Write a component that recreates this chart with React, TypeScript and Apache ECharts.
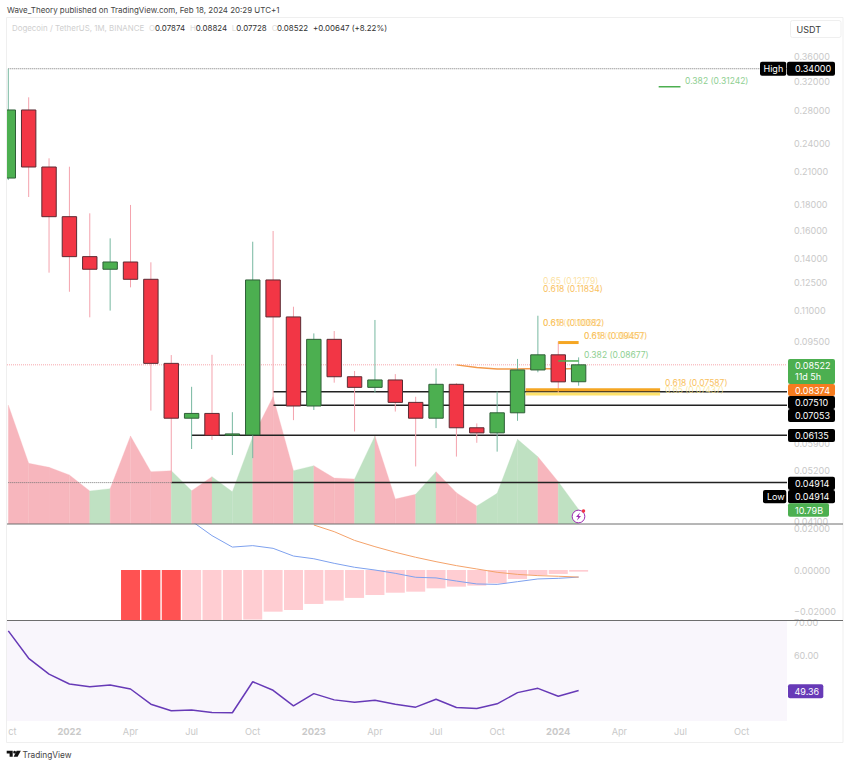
import React, { useEffect, useRef } from "react";
import * as echarts from "echarts";

const FONT = "Inter, 'Noto Sans', sans-serif";
const TICK = "#c9c9c9";

// [index, open, close, low, high], months from Oct 2021
const candles: number[][] = [
  [0, 0.204, 0.2804, 0.2021, 0.34],
  [1, 0.2804, 0.2148, 0.1867, 0.2975],
  [2, 0.2148, 0.1703, 0.1311, 0.2237],
  [3, 0.1703, 0.1413, 0.1199, 0.2151],
  [4, 0.1413, 0.1332, 0.1064, 0.173],
  [5, 0.1332, 0.1378, 0.1098, 0.1539],
  [6, 0.1378, 0.1271, 0.1224, 0.1799],
  [7, 0.1271, 0.0858, 0.0688, 0.1376],
  [8, 0.0858, 0.0664, 0.04914, 0.0892],
  [9, 0.0664, 0.0679, 0.0575, 0.0769],
  [10, 0.0679, 0.0613, 0.06, 0.0893],
  [11, 0.0613, 0.0617, 0.0559, 0.0683],
  [12, 0.0614, 0.1267, 0.0551, 0.1515],
  [13, 0.1267, 0.1066, 0.0704, 0.1593],
  [14, 0.1066, 0.0703, 0.0658, 0.1118],
  [15, 0.0703, 0.096, 0.069, 0.0987],
  [16, 0.096, 0.0806, 0.0784, 0.0998],
  [17, 0.0806, 0.0767, 0.0624, 0.0828],
  [18, 0.0767, 0.0794, 0.0748, 0.1051],
  [19, 0.0794, 0.0715, 0.0685, 0.0816],
  [20, 0.0715, 0.0664, 0.053, 0.0734],
  [21, 0.0664, 0.0778, 0.0634, 0.0838],
  [22, 0.0778, 0.0635, 0.0555, 0.0782],
  [23, 0.0635, 0.062, 0.0592, 0.0648],
  [24, 0.062, 0.0681, 0.0568, 0.0752],
  [25, 0.0681, 0.0832, 0.0656, 0.0876],
  [26, 0.0832, 0.0893, 0.0823, 0.1072],
  [27, 0.0893, 0.0787, 0.0743, 0.095],
  [28, 0.07874, 0.08522, 0.07728, 0.08824],
];

const volumes = [88.5, 45.2, 42.2, 36.5, 24.6, 26.3, 65.5, 38.9, 39.7, 24.8, 35.2, 24, 65, 94.7, 39.7, 43.4, 34.2, 33.5, 65.5, 18.6, 22.1, 38.9, 23.3, 13.4, 22.8, 63, 50, 31.5, 10.79];

const maCurve = [[22, 0.0852], [23, 0.0842], [24, 0.0836], [25, 0.0836], [26, 0.0838], [27, 0.0836], [28, 0.08374]];

const histStart = 6;
const macdHist = [-0.032, -0.031, -0.03, -0.029, -0.028, -0.026, -0.0238, -0.02, -0.0192, -0.0163, -0.0147, -0.0134, -0.012, -0.0109, -0.0104, -0.0088, -0.008, -0.0075, -0.0064, -0.0043, -0.0024, -0.0019, -0.0008];
const macdStart = 9;
const macdLine = [0.0235, 0.0165, 0.011, 0.0117, 0.0104, 0.0067, 0.0054, 0.0032, 0.0013, 0, -0.0016, -0.0035, -0.0038, -0.0053, -0.0067, -0.0069, -0.0056, -0.0043, -0.004, -0.0034];
const signalStart = 15;
const signalLine = [0.0216, 0.0184, 0.0142, 0.0112, 0.0085, 0.0061, 0.004, 0.0021, 0.0005, -0.0011, -0.0021, -0.0027, -0.003, -0.0034];

const rsi = [67.4, 59.1, 54.3, 51.3, 50.5, 51, 49.8, 45.2, 43.2, 43.4, 42.7, 42.6, 52, 49.4, 44.7, 48.4, 46.5, 45.8, 46.4, 45.2, 44.3, 46.7, 44.2, 43.9, 45.3, 48.7, 50, 47.6, 49.36];

const priceTicks = [0.36, 0.32, 0.28, 0.24, 0.21, 0.18, 0.16, 0.14, 0.125, 0.11, 0.095, 0.059, 0.052, 0.041];
const macdTicks = [0.02, 0, -0.02];
const rsiTicks = [70, 60];
const timeTickIdx = [0, 3, 6, 9, 12, 15, 18, 21, 24, 27, 30, 33, 36];
const timeTickLabels = ["ct", "2022", "Apr", "Jul", "Oct", "2023", "Apr", "Jul", "Oct", "2024", "Apr", "Jul", "Oct"];

const X_MIN = -0.064;
const X_MAX = 38.23;

// support levels: [value, first index]
const supports = [[0.0751, 13], [0.07053, 13], [0.06135, 9], [0.04914, 8]];
const HIGH = 0.34;
const LOW = 0.04914;
const LAST = 0.08522;

// fib segments: [value, from, to]
const fibGreen = [[0.31242, 31.93, 33], [0.08677, 27, 28]];
const fibOrange = [[0.09457, 27, 28], [0.07587, 25.4, 32]];
const fibYellow = [[0.07437, 25.4, 32]];

const fibTexts: [string, number, number, string, number][] = [
  ["0.382 (0.31242)", 685, 80.7, "#8fcf92", 1],
  ["0.65 (0.12179)", 543, 281, "#fbd98a", 0.8],
  ["0.618 (0.11834)", 543, 288.7, "#f9c15e", 1],
  ["0.65 (0.10062)", 543, 323, "#fbd98a", 0.8],
  ["0.618 (0.10082)", 543, 323, "#f9c15e", 1],
  ["0.65 (0.09487)", 584, 336, "#fbd98a", 0.8],
  ["0.618 (0.09457)", 584, 336, "#f9c15e", 1],
  ["0.382 (0.08677)", 584, 355, "#8fcf92", 1],
  ["0.65 (0.07437)", 665, 389.5, "#fbe58f", 0.8],
  ["0.618 (0.07587)", 665, 383.3, "#f9c15e", 1],
];

const text = (t: string, x: number, y: number, fill: string, size = 9, extra: any = {}) => ({
  type: "text",
  x,
  y,
  z: extra.z ?? 120,
  style: { text: t, fill, fontSize: size, fontFamily: FONT, verticalAlign: "middle", align: "left", opacity: extra.opacity ?? 1, fontWeight: extra.weight ?? 400 },
});

const badge = (t: string, x0: number, x1: number, y0: number, y1: number, bg: string, tx?: number) => [
  { type: "rect", z: 110, shape: { x: x0, y: y0, width: x1 - x0, height: y1 - y0, r: 2 }, style: { fill: bg } },
  text(t, tx ?? x0 + 3, (y0 + y1) / 2, "#ffffff"),
];

const segmentSeries = (data: number[][], color: string, width: number, z: number) =>
  data.map((d) => ({
    type: "line",
    xAxisIndex: 0,
    yAxisIndex: 0,
    showSymbol: false,
    silent: true,
    z,
    lineStyle: { color, width },
    data: [[d[1], d[0]], [d[2], d[0]]],
  }));

export default function App() {
  const ref = useRef<HTMLDivElement>(null);
  useEffect(() => {
    document.body.style.margin = "0";
    const chart = echarts.init(ref.current!, undefined, { renderer: "svg" });

    const volData = volumes.map((v, i) => [i, v, i > 0 ? volumes[i - 1] : v, candles[i][2] >= candles[i][1] ? 1 : 0]);

    const series: any[] = [
      {
        type: "custom",
        name: "Volume",
        xAxisIndex: 0,
        yAxisIndex: 1,
        z: 1,
        silent: true,
        clip: true,
        data: volData,
        encode: { x: 0, y: 1 },
        renderItem: (_p: any, api: any) => {
          const i = api.value(0);
          if (i === 0) return null;
          const a = api.coord([i - 1, api.value(2)]);
          const b = api.coord([i, api.value(1)]);
          const c = api.coord([i, 0]);
          const d = api.coord([i - 1, 0]);
          return {
            type: "polygon",
            shape: { points: [a, b, c, d] },
            style: { fill: api.value(3) ? "#bfe1c2" : "#f7b6bd", stroke: api.value(3) ? "#bfe1c2" : "#f7b6bd", lineWidth: 0.3 },
          };
        },
      },
      {
        type: "line",
        name: "Last",
        showSymbol: false,
        silent: true,
        z: 2,
        lineStyle: { color: "#f7a7ad", width: 1, type: "dotted" },
        data: [[X_MIN, LAST], [X_MAX, LAST]],
      },
      {
        type: "line",
        name: "High",
        showSymbol: false,
        silent: true,
        z: 2,
        lineStyle: { color: "#777777", width: 1, type: "dotted" },
        data: [[0, HIGH], [X_MAX, HIGH]],
      },
      {
        type: "line",
        name: "Low",
        showSymbol: false,
        silent: true,
        z: 2,
        lineStyle: { color: "#777777", width: 1, type: "dotted" },
        data: [[0, LOW], [8, LOW]],
      },
      ...segmentSeries(supports.map((s) => [s[0], s[1], X_MAX]), "#222222", 1.5, 2),
      {
        type: "line",
        name: "MA",
        showSymbol: false,
        silent: true,
        z: 2,
        lineStyle: { color: "#f39a4c", width: 1.5 },
        data: maCurve,
      },
      {
        type: "custom",
        name: "DOGEUSDT",
        xAxisIndex: 0,
        yAxisIndex: 0,
        z: 3,
        silent: true,
        clip: true,
        data: candles,
        encode: { x: 0, y: [1, 2, 3, 4] },
        renderItem: (_p: any, api: any) => {
          const i = api.value(0);
          const o = api.value(1);
          const c = api.value(2);
          const up = c >= o;
          const x = api.coord([i, o])[0];
          const yo = api.coord([i, o])[1];
          const yc = api.coord([i, c])[1];
          const yl = api.coord([i, api.value(3)])[1];
          const yh = api.coord([i, api.value(4)])[1];
          const top = Math.min(yo, yc);
          const h = Math.max(Math.abs(yo - yc), 0.5);
          return {
            type: "group",
            children: [
              { type: "line", shape: { x1: x, y1: yh, x2: x, y2: yl }, style: { stroke: up ? "#77b8a0" : "#f4a3ad", lineWidth: 1 } },
              { type: "rect", shape: { x: x - 7.2, y: top, width: 14.4, height: h }, style: { fill: up ? "#4caf50" : "#f23645", stroke: up ? "#2f5f38" : "#5c2b33", lineWidth: 1 } },
            ],
          };
        },
      },
      ...segmentSeries(fibGreen, "#4caf50", 1.5, 5),
      ...segmentSeries(fibYellow, "#ffe36b", 3, 5),
      ...segmentSeries(fibOrange, "#f5a623", 3, 5),
      {
        type: "custom",
        name: "PriceTicks",
        xAxisIndex: 0,
        yAxisIndex: 0,
        z: 6,
        silent: true,
        clip: false,
        data: priceTicks.map((v) => [X_MAX, v]),
        encode: { x: 0, y: 1 },
        renderItem: (_p: any, api: any) => {
          const p = api.coord([X_MAX, api.value(1)]);
          return {
            type: "text",
            x: p[0] + 7,
            y: p[1],
            style: { text: api.value(1).toFixed(5), fill: TICK, fontSize: 9, fontFamily: FONT, verticalAlign: "middle", align: "left" },
          };
        },
      },
      {
        type: "bar",
        name: "Histogram",
        xAxisIndex: 1,
        yAxisIndex: 2,
        barWidth: 19,
        silent: true,
        data: macdHist.map((v, i) => [i + histStart, v]),
        itemStyle: { color: (p: any) => (p.dataIndex < 3 ? "#ff5252" : "#ffcdd2") },
      },
      {
        type: "line",
        name: "MACD",
        xAxisIndex: 1,
        yAxisIndex: 2,
        showSymbol: false,
        silent: true,
        z: 4,
        lineStyle: { color: "#7ea1ee", width: 1 },
        data: macdLine.map((v, i) => [i + macdStart, v]),
      },
      {
        type: "line",
        name: "Signal",
        xAxisIndex: 1,
        yAxisIndex: 2,
        showSymbol: false,
        silent: true,
        z: 4,
        lineStyle: { color: "#f4a36b", width: 1 },
        data: signalLine.map((v, i) => [i + signalStart, v]),
      },
      {
        type: "line",
        name: "RSI",
        xAxisIndex: 2,
        yAxisIndex: 3,
        showSymbol: false,
        silent: true,
        lineStyle: { color: "#673ab7", width: 1.5 },
        data: rsi.map((v, i) => [i, v]),
      },
    ];

    const xBase = { type: "value", min: X_MIN, max: X_MAX, axisLine: { show: false }, axisTick: { show: false }, splitLine: { show: false } };

    const graphic: any[] = [
      { type: "rect", z: 0, shape: { x: 6.5, y: 17.5, width: 836.5, height: 725 }, style: { fill: "none", stroke: "#efefef", lineWidth: 1 } },
      { type: "line", z: 100, shape: { x1: 7, y1: 524, x2: 843, y2: 524 }, style: { stroke: "#6e6e6e", lineWidth: 1 } },
      { type: "line", z: 100, shape: { x1: 7, y1: 620.5, x2: 843, y2: 620.5 }, style: { stroke: "#6e6e6e", lineWidth: 1 } },
      text("Wave_Theory published on TradingView.com, Feb 18, 2024 20:29 UTC+1", 7, 10, "#444444", 7.95),
      text("Dogecoin / TetherUS, 1M, BINANCE", 12, 28.3, "#cfcfcf", 7.9),
      text("O", 149, 28.3, "#dddddd", 7.9),
      text("0.07874", 155, 28.3, "#333333", 7.9),
      text("H", 190, 28.3, "#dddddd", 7.9),
      text("0.08824", 195.7, 28.3, "#333333", 7.9),
      text("L", 231.7, 28.3, "#dddddd", 7.9),
      text("0.07728", 236.3, 28.3, "#333333", 7.9),
      text("C", 271.7, 28.3, "#dddddd", 7.9),
      text("0.08522", 277, 28.3, "#333333", 7.9),
      text("+0.00647 (+8.22%)", 313, 28.3, "#333333", 7.9),
      { type: "rect", z: 110, shape: { x: 790.5, y: 20.5, width: 50.5, height: 17, r: 2 }, style: { fill: "#ffffff", stroke: "#efefef" } },
      text("USDT", 796.5, 29.3, "#3a3a3a", 9),
      ...fibTexts.map(([t, x, y, c, op]) => text(t, x, y, c, 8.5, { opacity: op, z: 90 })),
      ...badge("High", 760, 786.3, 61.7, 75.7, "#000000", 763.5),
      ...badge("0.34000", 787, 835, 61.7, 75.7, "#000000", 795),
      { type: "rect", z: 110, shape: { x: 788, y: 359, width: 47, height: 25, r: 2 }, style: { fill: "#4caf50" } },
      text("0.08522", 795, 365.5, "#ffffff"),
      text("11d 5h", 795, 376, "#ffffff"),
      ...badge("0.08374", 788, 835, 384, 396, "#f57c1f", 795),
      ...badge("0.07510", 788, 835, 396, 409, "#000000", 795),
      ...badge("0.07053", 788, 835, 409, 422, "#000000", 795),
      ...badge("0.06135", 788, 835, 429, 442, "#000000", 795),
      ...badge("0.04914", 788, 835, 476.7, 490, "#000000", 795),
      ...badge("Low", 763, 786.3, 490, 503.3, "#000000", 767),
      ...badge("0.04914", 788, 835, 490, 503.3, "#000000", 795),
      ...badge("10.79B", 788, 829, 503.3, 516.7, "#4caf50", 795),
      ...badge("49.36", 788, 823.3, 684.3, 698.3, "#673ab7", 794.5),
      { type: "circle", z: 115, shape: { cx: 578.5, cy: 516.5, r: 6.3 }, style: { fill: "#ffffff", stroke: "#9c27b0", lineWidth: 1 } },
      { type: "polygon", z: 116, shape: { points: [[580, 512.5], [576, 517], [578.3, 517], [577, 520.5], [581, 516], [578.7, 516]] }, style: { fill: "#9c27b0" } },
      { type: "circle", z: 117, shape: { cx: 583.5, cy: 511, r: 1.7 }, style: { fill: "#f23645" } },
      { type: "polygon", z: 100, shape: { points: [[6.7, 750.7], [12.7, 750.7], [12.7, 756.8], [9.6, 756.8], [9.6, 753.6], [6.7, 753.6]] }, style: { fill: "#111111" } },
      { type: "circle", z: 100, shape: { cx: 14.6, cy: 752.2, r: 1.4 }, style: { fill: "#111111" } },
      { type: "polygon", z: 100, shape: { points: [[16.6, 750.7], [20.8, 750.7], [17.6, 756.8], [13.6, 756.8]] }, style: { fill: "#111111" } },
      text("TradingView", 22.5, 755, "#444444", 8.3),
    ];

    chart.setOption({
      animation: false,
      backgroundColor: "#ffffff",
      grid: [
        { left: 7, width: 780, top: 18, height: 506 },
        { left: 7, width: 780, top: 524, height: 96 },
        { left: 7, width: 780, top: 621, height: 100, show: true, backgroundColor: "#f9f6fc", borderWidth: 0 },
      ],
      xAxis: [
        { ...xBase, gridIndex: 0, axisLabel: { show: false } },
        { ...xBase, gridIndex: 1, axisLabel: { show: false } },
        {
          ...xBase,
          gridIndex: 2,
          axisLabel: {
            customValues: timeTickIdx,
            margin: 6,
            fontSize: 9.2,
            fontFamily: FONT,
            color: TICK,
            alignMinLabel: "left",
            formatter: (v: number) => {
              const t = timeTickLabels[timeTickIdx.indexOf(v)] ?? "";
              return /^\d/.test(t) ? `{y|${t}}` : t;
            },
            rich: { y: { fontWeight: 700, fontSize: 9.4, fontFamily: FONT, color: TICK } },
          },
        },
      ],
      yAxis: [
        { type: "log", gridIndex: 0, min: 0.0405, max: 0.431, axisLabel: { show: false }, axisLine: { show: false }, axisTick: { show: false }, splitLine: { show: false } },
        { type: "value", gridIndex: 0, min: 0, max: 376.5, show: false, splitLine: { show: false } },
        {
          type: "value",
          gridIndex: 1,
          min: -0.024,
          max: 0.02208,
          position: "right",
          axisLine: { show: false },
          axisTick: { show: false },
          splitLine: { show: false },
          axisLabel: {
            customValues: macdTicks,
            margin: 7,
            fontSize: 9,
            fontFamily: FONT,
            color: TICK,
            align: "left",
            formatter: (v: number) => (v < 0 ? "\u2212" : "") + Math.abs(v).toFixed(5),
          },
        },
        {
          type: "value",
          gridIndex: 2,
          min: 40.1,
          max: 70.4,
          position: "right",
          axisLine: { show: false },
          axisTick: { show: false },
          splitLine: { show: false },
          axisLabel: {
            customValues: rsiTicks,
            margin: 7,
            fontSize: 9,
            fontFamily: FONT,
            color: TICK,
            align: "left",
            formatter: (v: number) => v.toFixed(2),
          },
        },
      ],
      series,
      graphic: { elements: graphic },
    });
    return () => chart.dispose();
  }, []);
  return <div ref={ref} style={{ position: "absolute", left: 0, top: 0, width: 850, height: 766 }} />;
}
